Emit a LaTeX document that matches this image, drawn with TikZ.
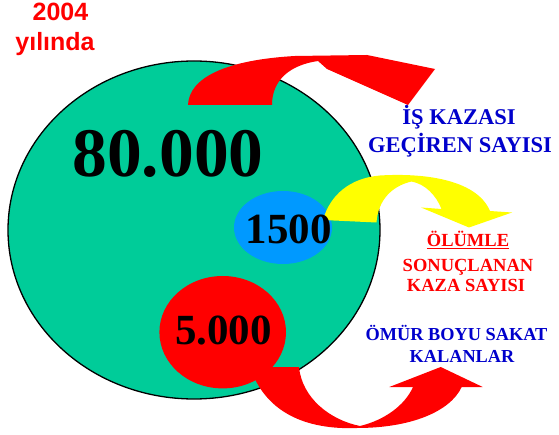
\documentclass[tikz,border=0pt]{standalone}
\usepackage{fontspec}
\setmainfont{Liberation Serif}
\newfontfamily\arialfont{Liberation Sans}
\definecolor{bgreen}{HTML}{00CC99}
\definecolor{bblue}{HTML}{0099FF}
\definecolor{bred}{HTML}{FF0000}
\definecolor{byellow}{HTML}{FFFF00}
\definecolor{tblue}{HTML}{0000CC}
\tikzset{
  lbl/.style={inner sep=0pt, anchor=base, align=center},
  big/.style={lbl, font=\bfseries\fontsize{69.5}{70}\selectfont, text=black},
  mid/.style={lbl, font=\bfseries\fontsize{43}{44}\selectfont, text=black},
  bluetxt/.style={lbl, font=\bfseries\fontsize{22.5}{23}\selectfont, text=tblue},
  bluetxt2/.style={lbl, font=\bfseries\fontsize{18.3}{19}\selectfont, text=tblue},
  redtxt/.style={lbl, font=\bfseries\fontsize{18.5}{19}\selectfont, text=bred},
  yeartxt/.style={lbl, font=\arialfont\bfseries\fontsize{25}{26}\selectfont, text=bred},
  bigarrow/.style={fill=bred, draw=none},
  yelarrow/.style={fill=byellow, draw=none}
}
\begin{document}
\begin{tikzpicture}[x=1pt, y=-1pt]
\useasboundingbox (0,0) rectangle (559,435);
% big circle
\draw[fill=bgreen, draw=black, line width=1.3pt] (194,230) ellipse [x radius=186, y radius=169];
\fill[bblue] (283,227.5) ellipse [x radius=49, y radius=36.5];
\fill[bred] (222.7,332.2) ellipse [x radius=63.3, y radius=56.2];
% top red arrow
\path[bigarrow] (188,105) .. controls (189,78) and (225,60) .. (295,56)
  -- (367,55) -- (435,69) -- (408,105) -- (327,69) -- (318,61)
  .. controls (290,65) and (272,80) .. (272,105) -- cycle;
% yellow arrow
\path[yelarrow] (323,220) .. controls (330,195) and (350,178) .. (380,175.5)
  .. controls (420,173) and (476,178) .. (490,211) -- (512,212.5) -- (469,227.5)
  -- (421,207.5) -- (441.5,209) .. controls (436,195) and (425,184) .. (411.5,181.5)
  .. controls (392,186) and (378,200) .. (376.5,222.5) -- cycle;
% bottom red arrow
\path[bigarrow] (250,367) -- (299,367) .. controls (302,398) and (330,420) .. (360,426)
  .. controls (385,420) and (405,405) .. (413,387) -- (389.3,387) -- (440.7,367)
  -- (482.7,387) -- (461.7,387) .. controls (450,412) and (410,428) .. (357,428)
  .. controls (305,430) and (265,412) .. (250,367) -- cycle;
% texts
\node[yeartxt] (y1) at (60.5,21) {2004};
\node[yeartxt] (y2) at (55,51) {yılında};
\node[big] (n80) at (168,177) {80.000};
\node[mid] (n15) at (288.5,244) {1500};
\node[mid] (n5) at (223.5,344) {5.000};
\node[bluetxt] (t1) at (459,125) {İŞ KAZASI};
\node[bluetxt] (t2) at (460,153) {GEÇİREN SAYISI};
\node[redtxt] (r1) at (468,247) {\underline{ÖLÜMLE}};
\node[redtxt] (r2) at (468,272) {SONUÇLANAN};
\node[redtxt] (r3) at (466,292) {KAZA SAYISI};
\node[bluetxt2] (b1) at (456.5,340) {ÖMÜR BOYU SAKAT};
\node[bluetxt2] (b2) at (462,362) {KALANLAR};
\end{tikzpicture}
\end{document}
